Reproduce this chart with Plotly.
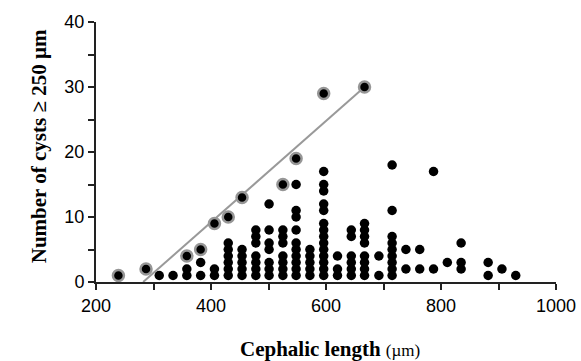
import plotly.graph_objects as go

# Column positions (cephalic length, µm) and the cyst counts plotted in each column
col_x = [310, 334, 358, 382, 406, 430, 454, 478, 501, 525, 548, 572, 596,
         620, 644, 667, 692, 715, 739, 763, 787, 811, 835, 882, 906, 930]
col_counts = [
    [1],
    [1],
    [1, 2],
    [1, 3],
    [1, 2],
    [1, 2, 3, 4, 5, 6],
    [1, 2, 3, 4, 5],
    [1, 2, 3, 4, 6, 7, 8],
    [1, 2, 3, 5, 6, 8, 12],
    [1, 2, 3, 4, 6, 7, 8],
    [1, 2, 3, 4, 5, 6, 8, 10, 11, 15],
    [1, 2, 3, 4, 5],
    [1, 2, 3, 4, 5, 6, 7, 8, 9, 11, 12, 14, 15, 17],
    [1, 2, 4],
    [1, 2, 3, 4, 7, 8],
    [1, 2, 3, 4, 6, 7, 8, 9],
    [1, 4],
    [1, 2, 3, 4, 5, 6, 7, 11, 18],
    [2, 5],
    [2, 5],
    [2, 17],
    [3],
    [2, 3, 6],
    [1, 3],
    [2],
    [1],
]

# Maximum counts (circled points)
max_x = [239, 287, 358, 382, 406, 430, 454, 525, 548, 596, 667]
max_y = [1, 2, 4, 5, 9, 10, 13, 15, 19, 29, 30]

# Upper-bound line
line_x = [282, 667]
line_y = [0, 30]

x_ticks = [200, 400, 600, 800, 1000]
y_ticks = [0, 10, 20, 30, 40]

x_title = "<b>Cephalic length</b> <span style='font-size:17px;font-weight:normal'>(µm)</span>"
y_title = "<b>Number of cysts ≥ 250 µm</b>"

dots_x = [x for x, ys in zip(col_x, col_counts) for _ in ys]
dots_y = [y for ys in col_counts for y in ys]

fig = go.Figure()
fig.add_trace(go.Scatter(x=line_x, y=line_y, mode="lines",
                         line=dict(color="#999999", width=2), hoverinfo="skip"))
fig.add_trace(go.Scatter(x=dots_x, y=dots_y, mode="markers",
                         marker=dict(color="black", size=9.5, line=dict(width=0))))
fig.add_trace(go.Scatter(x=max_x, y=max_y, mode="markers",
                         marker=dict(color="black", size=11,
                                     line=dict(color="#969696", width=2.5))))

axis_common = dict(
    showgrid=False, zeroline=False, showline=True, linecolor="#222222", linewidth=2,
    ticks="outside", ticklen=6, tickwidth=1.5, tickcolor="#222222", automargin=False,
    tickfont=dict(family="Liberation Sans, Arial", size=18, color="black"),
)

title_font = dict(family="Liberation Serif, Times New Roman", size=21, color="black")

fig.update_layout(
    width=581, height=361,
    margin=dict(l=96, r=25, t=22, b=79, autoexpand=False),
    paper_bgcolor="white", plot_bgcolor="white",
    showlegend=False,
    xaxis=dict(range=[200, 1000], tickvals=x_ticks,
               minor=dict(dtick=100, tick0=200, ticks="outside", ticklen=6,
                          tickwidth=1.5, tickcolor="#222222"),
               **axis_common),
    yaxis=dict(range=[0, 40], tickvals=y_ticks,
               minor=dict(dtick=5, tick0=0, ticks="outside", ticklen=6,
                          tickwidth=1.5, tickcolor="#222222"),
               **axis_common),
    annotations=[
        dict(text=x_title, xref="paper", yref="paper", x=0.509, y=-0.259,
             xanchor="center", yanchor="middle", showarrow=False, font=title_font),
        dict(text=y_title, xref="paper", yref="paper", x=-0.124, y=0.522,
             xanchor="center", yanchor="middle", textangle=-90, showarrow=False,
             font=title_font),
    ],
)

fig.write_html("out.html")
